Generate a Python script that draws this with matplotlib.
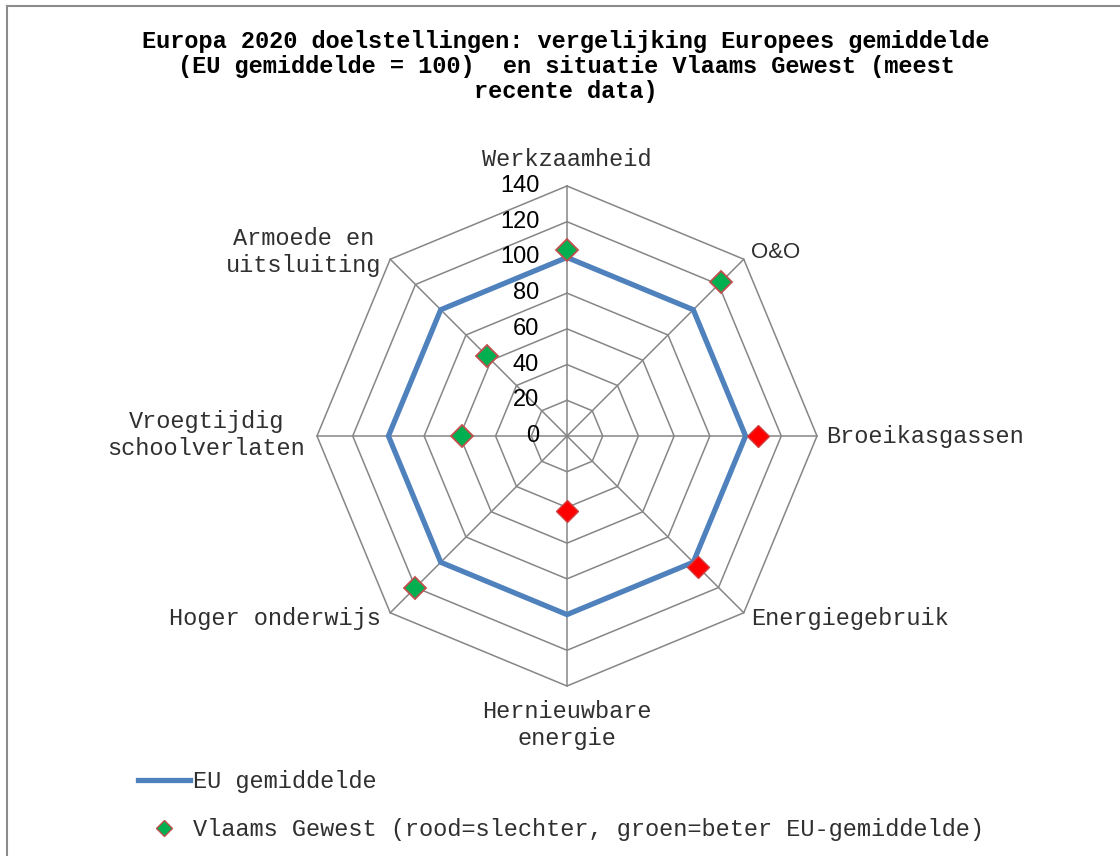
import numpy as np
import matplotlib
matplotlib.use('Agg')
import matplotlib.pyplot as plt
from matplotlib.lines import Line2D

# Europa 2020 doelstellingen, EU gemiddelde = 100
categories = ['Werkzaamheid', 'O&O', 'Broeikasgassen', 'Energiegebruik',
              'Hernieuwbare\nenergie', 'Hoger onderwijs',
              'Vroegtijdig\nschoolverlaten', 'Armoede en\nuitsluiting']
eu_avg = [100, 100, 100, 100, 100, 100, 100, 100]
vlaanderen = [104, 122, 107, 104, 42, 120, 59, 63]
beter = [True, True, False, False, False, True, True, True]
ring_ticks = [0, 20, 40, 60, 80, 100, 120, 140]

MONO = 'Liberation Mono'
GRID = '#868686'
BLUE = '#4F81BD'
TXT = '#303030'

fig = plt.figure(figsize=(11.2, 8.56), dpi=100)
W, H = 1120, 856
cx, cy, R = 567, 436, 250
ax = fig.add_axes([(cx - R) / W, 1 - (cy + R) / H, 2 * R / W, 2 * R / H],
                  projection='polar')
ax.set_theta_offset(np.pi / 2)
ax.set_theta_direction(-1)
ax.set_ylim(0, 140)
ax.set_xticks([]); ax.set_yticks([])
ax.grid(False)
ax.spines['polar'].set_visible(False)
ax.patch.set_alpha(0)

n = len(categories)
ang = np.arange(n) * 2 * np.pi / n
closed = np.append(ang, ang[0])

# octagonale raster
for r in ring_ticks[1:]:
    ax.plot(closed, [r] * (n + 1), color=GRID, lw=1.1, zorder=1, clip_on=False)
for a in ang:
    ax.plot([a, a], [0, ring_ticks[-1]], color=GRID, lw=1.1, zorder=1, clip_on=False)

eu_line, = ax.plot(closed, eu_avg + eu_avg[:1], color=BLUE, lw=3.8,
                   solid_joinstyle='miter', zorder=3, label='EU gemiddelde')

vl = np.array(vlaanderen); bt = np.array(beter)
ax.plot(ang[bt], vl[bt], ls='none', marker='D', ms=11, mfc='#00B050',
        mec='#C0504D', mew=1.3, zorder=4, clip_on=False)
ax.plot(ang[~bt], vl[~bt], ls='none', marker='D', ms=11, mfc='#FF0000',
        mec='#D04040', mew=1.0, zorder=4, clip_on=False)

# schaal langs de verticale as
for r in ring_ticks:
    ax.annotate(str(r), (0, r), xytext=(-20, 0), textcoords='offset points',
                ha='right', va='center', fontsize=17, family='Liberation Sans')

# labels per as: (dx, dy) in pixels, uitlijning
offs = [(0, 26, 'center'), (7, 7, 'left'), (9, 0, 'left'), (7, -6, 'left'),
        (0, -39, 'center'), (-9, -6, 'right'), (-12, 1, 'right'), (-9, 7, 'right')]
for a, lab, (dx, dy, ha) in zip(ang, categories, offs):
    fam = 'Liberation Sans' if lab == 'O&O' else MONO
    fs = 16 if lab == 'O&O' else 17
    ax.annotate(lab, (a, 140), xytext=(dx * 0.72, dy * 0.72),
                textcoords='offset points', ha=ha, va='center',
                multialignment='center', fontsize=fs, family=fam,
                color=TXT, linespacing=1.2, annotation_clip=False)

fig.text(566 / W, 1 - 30 / H,
         'Europa 2020 doelstellingen: vergelijking Europees gemiddelde\n'
         '(EU gemiddelde = 100)  en situatie Vlaams Gewest (meest\n'
         'recente data)',
         ha='center', va='top', fontsize=17, family=MONO, weight='bold',
         linespacing=1.12)

marker_handle = Line2D([], [], ls='none', marker='D', ms=8.5, mfc='#00B050',
                       mec='#C0504D', mew=1.0)
leg = fig.legend([eu_line, marker_handle],
                 ['EU gemiddelde',
                  'Vlaams Gewest (rood=slechter, groen=beter EU-gemiddelde)'],
                 loc='upper left', bbox_to_anchor=(138 / W, 1 - 770 / H),
                 frameon=False, borderpad=0, borderaxespad=0,
                 handlelength=2.2, handletextpad=0.15, labelspacing=1.05,
                 prop={'family': MONO, 'size': 17})
for t in leg.get_texts():
    t.set_color(TXT)

# kaderlijnen van het grafiekgebied
fig.add_artist(Line2D([7 / W, 1], [1 - 6 / H, 1 - 6 / H], color='#8C8C8C', lw=1.5))
fig.add_artist(Line2D([7 / W, 7 / W], [0, 1 - 6 / H], color='#8C8C8C', lw=1.5))

fig.savefig('out.png', dpi=100)
